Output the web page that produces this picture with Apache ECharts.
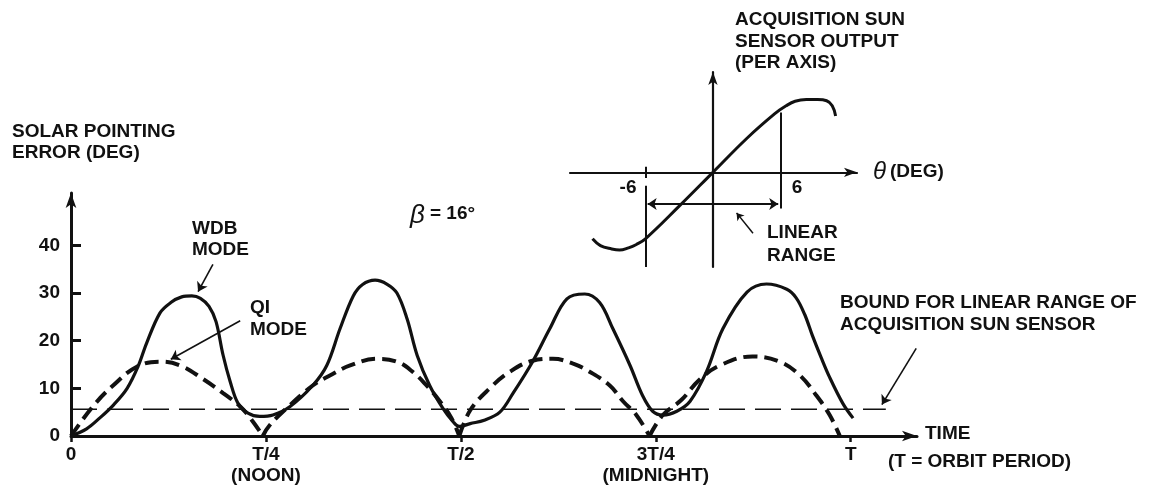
<!DOCTYPE html>
<html><head><meta charset="utf-8">
<script src="https://cdn.jsdelivr.net/npm/echarts@6/dist/echarts.min.js"></script>
<style>html,body{margin:0;padding:0;background:#fff}#c{width:1155px;height:486px}</style>
</head><body><div id="c"></div>
<script>
// ---- data (time in fractions of the orbit period T, error in degrees) ----
const timeTicks = [0, 0.25, 0.5, 0.75, 1];
const timeTickLabels = ['0', 'T/4\n(NOON)', 'T/2', '3T/4\n(MIDNIGHT)', 'T'];
const errorTicks = [0, 10, 20, 30, 40];

const wdbT = [0, 0.02, 0.037, 0.055, 0.072, 0.086, 0.097, 0.114, 0.128, 0.142, 0.155, 0.166, 0.177, 0.186, 0.195, 0.204, 0.214, 0.227, 0.242, 0.259, 0.281, 0.31, 0.328, 0.345, 0.362, 0.374, 0.39, 0.405, 0.418, 0.431, 0.444, 0.46, 0.477, 0.49, 0.498, 0.512, 0.53, 0.55, 0.567, 0.592, 0.614, 0.636, 0.659, 0.678, 0.695, 0.717, 0.733, 0.746, 0.759, 0.777, 0.794, 0.815, 0.836, 0.867, 0.892, 0.918, 0.93, 0.941, 0.951, 0.962, 0.973, 0.99, 1.003];
const wdbErr = [0, 1.5, 3.8, 6.6, 10, 14.6, 19.5, 25.8, 28, 29.2, 29.4, 28.9, 27.2, 24, 17, 11.5, 6.9, 4.8, 4.1, 4.4, 6.2, 10.6, 14.8, 22.5, 29.4, 31.8, 32.7, 31.9, 30, 24.6, 16.9, 10.6, 5.8, 3, 2, 2.6, 3.3, 5, 9, 15.6, 22.5, 28.8, 29.8, 28, 22.5, 14.8, 8.5, 5.2, 4.4, 5.2, 7.3, 13.5, 22.5, 30.2, 31.9, 30.8, 29, 25.5, 21, 16.5, 12.3, 6.8, 3.75];

const qiT = [0, 0.028, 0.054, 0.085, 0.114, 0.14, 0.169, 0.195, 0.217, 0.232, 0.246, 0.255, 0.281, 0.31, 0.332, 0.358, 0.392, 0.418, 0.438, 0.456, 0.473, 0.488, 0.498, 0.512, 0.537, 0.563, 0.592, 0.618, 0.644, 0.665, 0.691, 0.708, 0.725, 0.742, 0.759, 0.783, 0.806, 0.832, 0.874, 0.909, 0.935, 0.956, 0.973, 0.986];
const qiErr = [0, 6.2, 10.6, 14.6, 15.6, 14.8, 12, 9, 6.2, 3.3, 0, 2.3, 6.5, 10.6, 12.7, 14.8, 16.2, 15.6, 13.5, 10.6, 7.3, 3.75, 0, 5.4, 10, 13.5, 15.8, 16.2, 15.2, 13.5, 10.6, 7.3, 4.4, 0, 4.4, 7.6, 11.8, 14.8, 16.7, 15.6, 12.7, 8.5, 4.4, 0];

const boundErr = 5.6;
const boundT = [0, 1.045];

// inset: acquisition sun sensor output vs theta (deg)
const sensorAngle = [-10.7, -10, -9, -8.3, -7.5, -6.8, -6, -3, 0, 3, 5.5, 6.5, 7.3, 8.3, 9.3, 10.1, 10.6, 10.9];
const sensorOutput = [-5.9, -6.5, -6.8, -6.9, -6.7, -6.4, -5.9, -3, 0, 3, 5.2, 5.9, 6.3, 6.45, 6.45, 6.35, 5.9, 5.0];
const linearRange = [-6, 6];

// ---- chart ----
const INK = '#111';
const FONT = 'bold 19px "Liberation Sans", Arial, sans-serif';
const zip = (a, b) => a.map((v, i) => [v, b[i]]);

// split QI into arches at its zero points (cusps)
const qiPts = zip(qiT, qiErr);
const qiArches = [];
let cur = [];
qiPts.forEach((p, i) => {
  cur.push(p);
  if (p[1] === 0 && i > 0) { qiArches.push(cur); cur = [p]; }
});
if (cur.length > 1) qiArches.push(cur);

const chart = echarts.init(document.getElementById('c'), null, {renderer: 'canvas'});

function txt(text, x, y, font, align) {
  return {type: 'text', silent: true, style: {text, x, y, font: font || FONT, fill: INK,
    align: align || 'left', verticalAlign: 'middle', textAlign: align || 'left', textVerticalAlign: 'middle'}};
}

const arrowLine = {symbol: ['none', 'arrow'], symbolSize: 9, silent: true, label: {show: false},
  lineStyle: {type: 'solid', width: 1.6, color: INK}, emphasis: {disabled: true}};

const option = {
  animation: false,
  backgroundColor: '#fff',
  grid: [
    {left: 71, top: 193, width: 846, height: 245},
    {left: 570, top: 72, width: 287, height: 195}
  ],
  xAxis: [
    {type: 'value', gridIndex: 0, min: 0, max: 1.085,
      axisLine: {symbol: ['none', 'arrow'], symbolSize: [8, 15], lineStyle: {color: INK, width: 3}},
      axisTick: {show: true, customValues: timeTicks, length: 6, lineStyle: {color: INK, width: 2.5}},
      axisLabel: {customValues: timeTicks, margin: 8, color: INK, fontFamily: '"Liberation Sans", Arial, sans-serif',
        fontWeight: 'bold', fontSize: 19, lineHeight: 21,
        formatter: v => timeTickLabels[timeTicks.indexOf(v)]},
      splitLine: {show: false}},
    {type: 'value', gridIndex: 1, min: -12.7, max: 12.8,
      axisLine: {onZero: true, symbol: ['none', 'arrow'], symbolSize: [7, 13], lineStyle: {color: INK, width: 2.2}},
      axisTick: {show: false}, axisLabel: {show: false}, splitLine: {show: false}}
  ],
  yAxis: [
    {type: 'value', gridIndex: 0, min: 0, max: 51,
      axisLine: {show: true, symbol: ['none', 'arrow'], symbolSize: [8, 15], lineStyle: {color: INK, width: 3}},
      axisTick: {show: true, inside: true, customValues: [10, 20, 30, 40], length: 10, lineStyle: {color: INK, width: 3}},
      axisLabel: {customValues: errorTicks, margin: 11, color: INK, fontFamily: '"Liberation Sans", Arial, sans-serif',
        fontWeight: 'bold', fontSize: 19},
      splitLine: {show: false}},
    {type: 'value', gridIndex: 1, min: -8.4, max: 8.9,
      axisLine: {show: true, onZero: true, symbol: ['none', 'arrow'], symbolSize: [7, 13], lineStyle: {color: INK, width: 2.2}},
      axisTick: {show: false}, axisLabel: {show: false}, splitLine: {show: false}}
  ],
  series: [
    {name: 'WDB MODE', type: 'line', xAxisIndex: 0, yAxisIndex: 0, data: zip(wdbT, wdbErr),
      smooth: 0.35, showSymbol: false, silent: true, lineStyle: {color: INK, width: 3.2}, z: 5},
    ...qiArches.map(seg => ({name: 'QI MODE', type: 'line', xAxisIndex: 0, yAxisIndex: 0, data: seg,
      smooth: 0.4, showSymbol: false, silent: true,
      lineStyle: {color: INK, width: 4, type: [14, 7], cap: 'butt'}, z: 4})),
    {name: 'Bound', type: 'line', xAxisIndex: 0, yAxisIndex: 0, clip: false,
      data: boundT.map(t => [t, boundErr]), showSymbol: false, silent: true,
      lineStyle: {color: INK, width: 1.6, type: [26, 10]},
      markLine: Object.assign({}, arrowLine, {data: [
        [{coord: [0.182, 36]}, {coord: [0.163, 30.3]}],
        [{coord: [0.217, 24.2]}, {coord: [0.128, 16.1]}],
        [{coord: [1.084, 18.4]}, {coord: [1.04, 6.6]}]
      ]})},
    {name: 'Sensor', type: 'line', xAxisIndex: 1, yAxisIndex: 1, data: zip(sensorAngle, sensorOutput),
      smooth: 0.4, showSymbol: false, silent: true, clip: false, lineStyle: {color: INK, width: 3},
      markLine: {silent: true, label: {show: false}, emphasis: {disabled: true}, symbolSize: 9,
        lineStyle: {type: 'solid', width: 2, color: INK},
        data: [
          [{coord: [linearRange[0], -1.2], symbol: 'none'}, {coord: [linearRange[0], -8.4], symbol: 'none'}],
          [{coord: [linearRange[1], 5.3], symbol: 'none'}, {coord: [linearRange[1], -3.2], symbol: 'none'}],
          [{coord: [linearRange[0], 0.5], symbol: 'none'}, {coord: [linearRange[0], -0.5], symbol: 'none'}],
          [{coord: [linearRange[0] + 0.2, -2.8], symbol: 'arrow'}, {coord: [linearRange[1] - 0.2, -2.8], symbol: 'arrow'}],
          [{coord: [3.56, -5.4], symbol: 'none', lineStyle: {width: 1.5}}, {coord: [2.1, -3.6], symbol: 'arrow', symbolSize: 7}]
        ]}}
  ],
  graphic: [
    txt('SOLAR POINTING', 12, 132),
    txt('ERROR (DEG)', 12, 153),
    txt('β', 410, 216, 'italic 26px "Liberation Sans", Arial, sans-serif'),
    txt('= 16°', 430, 214),
    txt('WDB', 192, 229),
    txt('MODE', 192, 250),
    txt('QI', 250, 308),
    txt('MODE', 250, 330),
    txt('ACQUISITION SUN', 735, 20),
    txt('SENSOR OUTPUT', 735, 42),
    txt('(PER AXIS)', 735, 63),
    txt('θ', 873, 172, 'italic 24px "Liberation Sans", Arial, sans-serif'),
    txt('(DEG)', 890, 172),
    txt('-6', 628, 188, FONT, 'center'),
    txt('6', 797, 188, FONT, 'center'),
    txt('LINEAR', 767, 233),
    txt('RANGE', 767, 256),
    txt('BOUND FOR LINEAR RANGE OF', 840, 303),
    txt('ACQUISITION SUN SENSOR', 840, 325),
    txt('TIME', 925, 434),
    txt('(T = ORBIT PERIOD)', 888, 462)
  ]
};
chart.setOption(option);
</script>
</body></html>
